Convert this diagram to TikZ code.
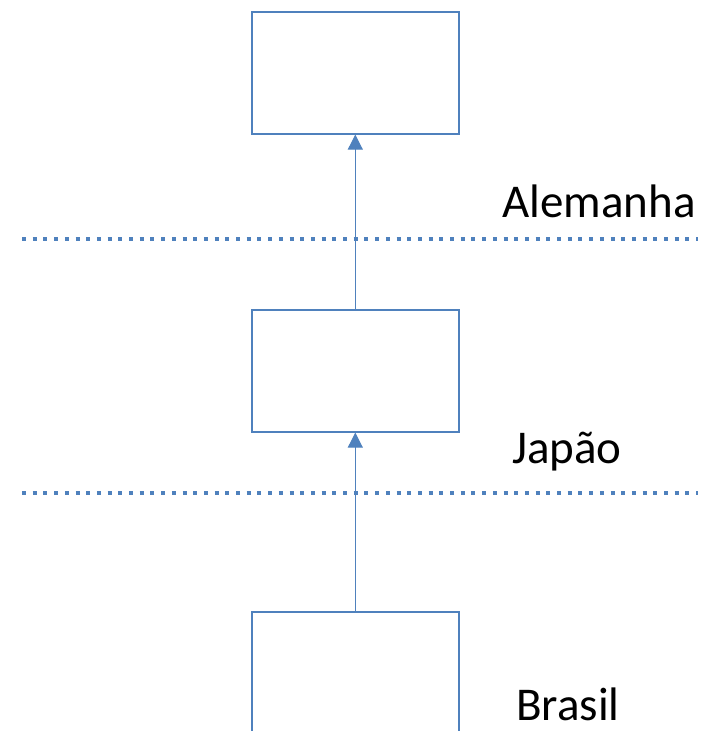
\documentclass[tikz,border=0pt]{standalone}
\usepackage{fontspec}
\setmainfont{Carlito}
\usetikzlibrary{arrows.meta}
\definecolor{officeblue}{HTML}{4F81BD}
\tikzset{
  box/.style={draw=officeblue, line width=1.6pt, fill=white, minimum width=207pt, minimum height=122pt, inner sep=0pt, anchor=north west},
  sep/.style={draw=officeblue, line width=4pt, dash pattern=on 4pt off 6.7pt},
  link/.style={draw=officeblue, line width=1.1pt, -{Triangle[length=15pt,width=15pt]}},
  lbl/.style={anchor=base west, inner sep=0pt, font=\fontsize{47}{50}\selectfont}
}
\begin{document}
\begin{tikzpicture}[x=1pt,y=-1pt]
\useasboundingbox (0,0) rectangle (701,731);
\coordinate (l1a) at (22,239);
\coordinate (l1b) at (698,239);
\coordinate (l2a) at (22,493);
\coordinate (l2b) at (698,493);
\draw[sep] (l1a) -- (l1b);
\draw[sep] (l2a) -- (l2b);
\node[box] (top) at (251,11) {};
\node[box] (mid) at (251,309) {};
\node[box] (bot) at (251,611) {};
\draw[link] (bot.north) -- (mid.south);
\draw[link] (mid.north) -- (top.south);
\node[lbl] (ale) at (502,217) {Alemanha};
\node[lbl] (jap) at (512,463) {Japão};
\node[lbl] (bra) at (516,720) {Brasil};
\end{tikzpicture}
\end{document}
